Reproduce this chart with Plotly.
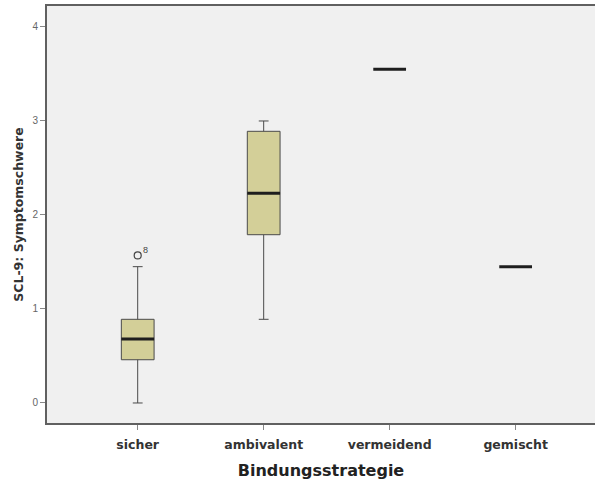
import plotly.graph_objects as go

# Bindungsstrategie groups and SCL-9 box statistics
groups = ["sicher", "ambivalent", "vermeidend", "gemischt"]
lower_whisker = [0.00, 0.89, 3.55, 1.45]
q1 = [0.46, 1.79, 3.55, 1.45]
median = [0.68, 2.23, 3.55, 1.45]
q3 = [0.89, 2.89, 3.55, 1.45]
upper_whisker = [1.45, 3.00, 3.55, 1.45]

# outlier cases (group, value, case number)
outlier_group = ["sicher"]
outlier_value = [1.57]
outlier_case = ["8"]

y_ticks = [0, 1, 2, 3, 4]

BOX_W = 0.26
FILL = "#d3cf98"
EDGE = "#4a4a4a"

fig = go.Figure()

for i, g in enumerate(groups):
    single = q1[i] == q3[i] and lower_whisker[i] == upper_whisker[i]
    if single:
        continue
    fig.add_trace(go.Box(
        x=[g],
        q1=[q1[i]], median=[median[i]], q3=[q3[i]],
        lowerfence=[lower_whisker[i]], upperfence=[upper_whisker[i]],
        width=BOX_W, whiskerwidth=0.3,
        fillcolor=FILL,
        line=dict(color=EDGE, width=1),
        boxpoints=False,
        showlegend=False,
        hoverinfo="skip",
    ))

# thick median bars (also the single-value groups)
for i, g in enumerate(groups):
    fig.add_shape(
        type="line", xref="x", yref="y",
        x0=i - BOX_W / 2, x1=i + BOX_W / 2,
        y0=median[i], y1=median[i],
        line=dict(color="#1e1e1e", width=3),
    )

# outliers
fig.add_trace(go.Scatter(
    x=outlier_group, y=outlier_value, mode="markers",
    marker=dict(symbol="circle-open", size=7, color="#444", line=dict(width=1.2)),
    showlegend=False, hoverinfo="skip",
))
for g, v, c in zip(outlier_group, outlier_value, outlier_case):
    fig.add_annotation(
        x=g, y=v, text=c, showarrow=False,
        xanchor="left", yanchor="bottom", xshift=3, yshift=-2,
        font=dict(family="Liberation Sans, Arial", size=9, color="#444"),
    )

fig.update_layout(
    width=595, height=483,
    margin=dict(l=47, r=0, t=6, b=60),
    paper_bgcolor="white",
    plot_bgcolor="#f0f0f0",
    showlegend=False,
    xaxis=dict(
        type="category",
        categoryorder="array", categoryarray=groups,
        range=[-0.72, 3.63],
        showgrid=False, zeroline=False,
        showline=True, linecolor="#606060", linewidth=2, mirror=True,
        ticks="outside", ticklen=5, tickcolor="#888", tickwidth=1,
        ticklabelstandoff=4,
        tickfont=dict(family="DejaVu Sans", size=12.5, color="#333", weight="bold"),
        title=dict(text="<b>Bindungsstrategie</b>",
                   font=dict(family="DejaVu Sans", size=16, color="#222"),
                   standoff=14),
    ),
    yaxis=dict(
        range=[-0.213, 4.223],
        tickvals=y_ticks,
        showgrid=False, zeroline=False,
        showline=True, linecolor="#606060", linewidth=2,
        ticks="outside", ticklen=5, tickcolor="#888", tickwidth=1,
        tickfont=dict(family="Liberation Sans, Arial", size=10, color="#666"),
        title=dict(text="<b>SCL-9: Symptomschwere</b>",
                   font=dict(family="DejaVu Sans", size=12.5, color="#333"),
                   standoff=6),
    ),
)

fig.write_html("out.html")
